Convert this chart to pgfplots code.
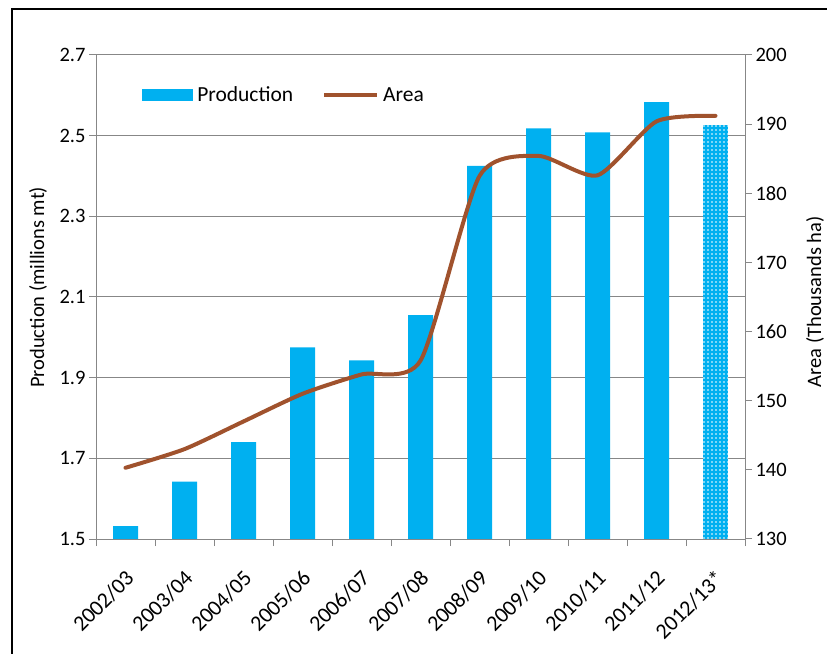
\documentclass[border=0pt]{standalone}
\usepackage{fontspec}
\setmainfont{Carlito}
\usepackage{pgfplots}
\pgfplotsset{compat=1.18}
\usetikzlibrary{patterns}
\definecolor{barblue}{HTML}{00B0F0}
\definecolor{areabrown}{HTML}{A0522D}
\definecolor{gridgray}{HTML}{878787}
\pgfdeclarepatternformonly{wdots}{\pgfqpoint{-1.5bp}{-1.5bp}}{\pgfqpoint{1.5bp}{1.5bp}}{\pgfqpoint{4bp}{4bp}}{\pgfpathcircle{\pgfqpoint{0bp}{0bp}}{0.9bp}\pgfusepath{fill}}
\begin{document}
\begin{tikzpicture}[font=\fontsize{21bp}{25bp}\selectfont]
\useasboundingbox (0,0) rectangle (827bp,654bp);
\draw[line width=2.6bp] (12bp,0) -- (12bp,645bp) -- (830bp,645bp);
\pgfplotsset{
  common/.style={
    at={(96bp,115bp)}, anchor=south west,
    width=649bp, height=484bp, scale only axis,
    xmin=-0.5, xmax=10.5,
    tick align=outside,
    major tick length=7bp, minor tick length=7bp,
    every tick/.style={gridgray, line width=1bp},
    axis line style={gridgray, line width=1bp},
    /pgf/number format/assume math mode=true,
    tick label style={font=\fontsize{20.5bp}{24bp}\selectfont},
    label style={font=\fontsize{20.5bp}{24bp}\selectfont},
  }
}
\begin{axis}[common,
  axis x line*=bottom, axis y line*=left,
  ymin=1.5, ymax=2.7,
  ytick={1.5,1.7,1.9,2.1,2.3,2.5,2.7},
  yticklabel style={/pgf/number format/.cd, fixed, fixed zerofill, precision=1},
  ymajorgrids, major grid style={gridgray, line width=1bp},
  xtick={0,1,2,3,4,5,6,7,8,9,10},
  major x tick style={draw=none},
  minor xtick={-0.5,0.5,1.5,2.5,3.5,4.5,5.5,6.5,7.5,8.5,9.5,10.5},
  xticklabels={2002/03,2003/04,2004/05,2005/06,2006/07,2007/08,2008/09,2009/10,2010/11,2011/12,2012/13*},
  xticklabel style={xshift=7bp, yshift=-26bp, rotate=45, anchor=east, font=\fontsize{22bp}{26bp}\selectfont},
  ylabel={Production (millions mt)},
  ylabel style={at={(axis description cs:-0.0894,0.52)}, anchor=center},
  legend style={at={(axis description cs:0.071,0.917)}, anchor=west, draw=none, fill=none,
    inner sep=0pt, legend columns=2,
    font=\fontsize{21.5bp}{25bp}\selectfont,
    /tikz/every even column/.append style={column sep=27bp},
    /tikz/every odd column/.append style={column sep=2bp}},
]
\addplot[ybar, bar width=25bp, bar shift=0pt, fill=barblue, draw=none,
  legend image code/.code={\fill[barblue] (0bp,-6bp) rectangle (51bp,6bp);}]
  coordinates {(0,1.532) (1,1.642) (2,1.740) (3,1.975) (4,1.943) (5,2.055)
               (6,2.425) (7,2.518) (8,2.508) (9,2.583)};
\addlegendentry{Production}
\addplot[ybar, bar width=25bp, bar shift=0pt, fill=barblue, draw=none, forget plot,
  postaction={pattern=wdots, pattern color=white}]
  coordinates {(10,2.526)};
\addlegendimage{legend image code/.code={\draw[areabrown, line width=4bp] (0bp,0bp) -- (53bp,0bp);}}
\addlegendentry{Area}
\end{axis}
\begin{axis}[common,
  axis y line*=right, axis x line=none,
  ymin=130, ymax=200,
  ytick={130,140,150,160,170,180,190,200},
  ylabel={Area (Thousands ha)},
  ylabel style={at={(axis description cs:1.108,0.49)}, anchor=center},
]
\addplot[areabrown, line width=4bp, smooth, tension=0.4, line cap=round]
  coordinates {(0,140.3) (1,143.0) (2,147.0) (3,151.0) (4,153.8) (5,155.8)
               (6,182.5) (7,185.4) (8,182.6) (9,190.4) (10,191.2)};
\end{axis}
\end{tikzpicture}
\end{document}
